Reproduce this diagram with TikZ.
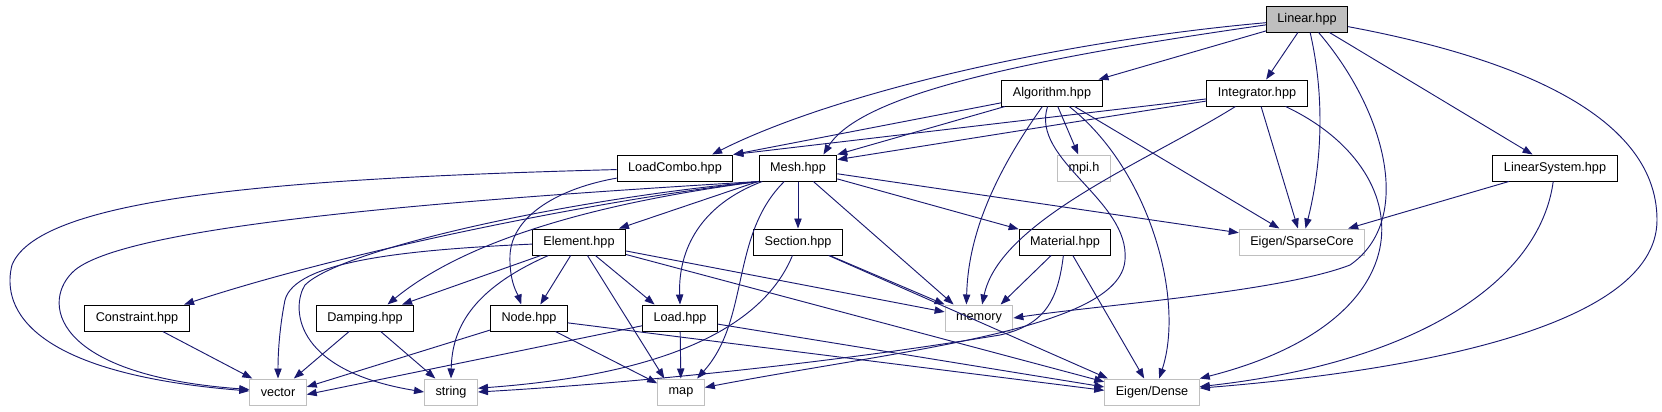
\documentclass[tikz,border=0pt]{standalone}
\usepackage{fontspec}
\setmainfont{Liberation Sans}
\usepackage{xcolor}
\usepackage{tikz}
\usetikzlibrary{arrows.meta}
\definecolor{depblue}{HTML}{191970}
\definecolor{greyfill}{HTML}{BFBFBF}
\tikzstyle{hdr}=[draw=black,fill=white,rectangle,line width=0.75pt,minimum height=19.5pt,inner xsep=8.25pt,inner ysep=0pt,font=\fontsize{9.5}{11}\selectfont]
\tikzstyle{sys}=[hdr,draw=greyfill]
\tikzstyle{root}=[hdr,fill=greyfill]
\tikzstyle{dep}=[draw=depblue,line width=0.7pt,-{Triangle[length=7.5pt,width=5.5pt]}]

\begin{document}
\begin{tikzpicture}[x=0.75pt,y=-0.75pt]
\useasboundingbox (0,0) rectangle (1662,411);
\node[root] (a1) at (1307,19) {Linear.hpp};
\node[hdr] (b1) at (1052,93) {Algorithm.hpp};
\node[hdr] (b2) at (1257,93) {Integrator.hpp};
\node[hdr] (c1) at (675,168) {LoadCombo.hpp};
\node[hdr] (c2) at (798,168) {Mesh.hpp};
\node[sys] (c3) at (1084,168) {mpi.h};
\node[hdr] (c4) at (1555,168) {LinearSystem.hpp};
\node[hdr] (d1) at (579,242) {Element.hpp};
\node[hdr] (d2) at (798,242) {Section.hpp};
\node[hdr] (d3) at (1065,242) {Material.hpp};
\node[sys] (d4) at (1302,242) {Eigen/SparseCore};
\node[hdr] (e1) at (137,318) {Constraint.hpp};
\node[hdr] (e2) at (365,318) {Damping.hpp};
\node[hdr] (e3) at (529,318) {Node.hpp};
\node[hdr] (e4) at (680,318) {Load.hpp};
\node[sys] (e5) at (979,318) {memory};
\node[sys] (f1) at (278,392) {vector};
\node[sys] (f2) at (451,392) {string};
\node[sys] (f3) at (681,392) {map};
\node[sys] (f4) at (1152,392) {Eigen/Dense};
\draw[dep] (a1) .. controls (1050,42) and (830,95) .. (c1.20);
\draw[dep] (a1) .. controls (1020,60) and (860,95) .. (c2.28);
\draw[dep] (a1) -- (b1);
\draw[dep] (a1) -- (b2);
\draw[dep] (a1) -- (c4);
\draw[dep] (a1) .. controls (1328,110) and (1318,180) .. (d4);
\draw[dep] (a1) .. controls (1385,110) and (1415,220) .. (1350,265) .. controls (1280,292) and (1100,305) .. (e5.east);
\draw[dep] (a1) .. controls (1500,55) and (1657,110) .. (1657,220) .. controls (1657,330) and (1400,372) .. (f4);
\draw[dep] (b1) -- (c1.north east);
\draw[dep] (b1) -- (c2.north east);
\draw[dep] (b1) -- (c3);
\draw[dep] (b1) .. controls (990,180) and (968,240) .. (e5.133);
\draw[dep] (b1) -- (d4);
\draw[dep] (b1) .. controls (1150,170) and (1185,300) .. (f4.62);
\draw[dep] (b1) .. controls (1030,160) and (1130,200) .. (1125,260) .. controls (1120,330) and (900,350) .. (f3);
\draw[dep] (b2) -- (c1.north east);
\draw[dep] (b2) -- (c2.12);
\draw[dep] (b2) .. controls (1150,160) and (1000,220) .. (e5.77);
\draw[dep] (b2) -- (d4);
\draw[dep] (b2) .. controls (1420,170) and (1430,320) .. (f4.north east);
\draw[dep] (c4) -- (d4);
\draw[dep] (c4) .. controls (1540,280) and (1420,362) .. (f4);
\draw[dep] (c1) .. controls (300,178) and (40,195) .. (12,265) .. controls (3,300) and (15,372) .. (f1.178);
\draw[dep] (c1) .. controls (560,188) and (512,215) .. (510,255) .. controls (509,282) and (518,295) .. (e3.120);
\draw[dep] (c2) -- (d1);
\draw[dep] (c2) -- (d2);
\draw[dep] (c2) -- (d3);
\draw[dep] (c2) -- (d4);
\draw[dep] (c2) -- (e5.152);
\draw[dep] (c2) .. controls (730,235) and (750,320) .. (f3.40);
\draw[dep] (c2) .. controls (700,205) and (678,250) .. (e4.north);
\draw[dep] (c2.south west) .. controls (580,205) and (460,245) .. (e2.31);
\draw[dep] (c2.south west) .. controls (600,200) and (350,250) .. (e1.16);
\draw[dep] (c2.south west) .. controls (450,200) and (130,225) .. (75,270) .. controls (40,300) and (50,375) .. (f1.175);
\draw[dep] (c2.south west) .. controls (560,200) and (340,250) .. (305,285) .. controls (292,305) and (290,370) .. (f2.west);
\draw[dep] (d1) -- (e2.20);
\draw[dep] (d1) .. controls (400,250) and (295,262) .. (285,300) .. controls (280,325) and (278,350) .. (f1.north);
\draw[dep] (d1) .. controls (470,290) and (452,330) .. (f2.north);
\draw[dep] (d1) -- (e3.50);
\draw[dep] (d1) -- (f3.141);
\draw[dep] (d1) -- (e4.152);
\draw[dep] (d1) -- (e5.170);
\draw[dep] (d1) -- (f4.168);
\draw[dep] (d2) -- (e5.north west);
\draw[dep] (d2) -- (f4.163);
\draw[dep] (d2) .. controls (770,310) and (700,372) .. (f2.8);
\draw[dep] (d3) -- (e5.32);
\draw[dep] (d3) -- (f4);
\draw[dep] (d3) .. controls (1058,300) and (1045,325) .. (1000,335) .. controls (800,368) and (600,385) .. (f2.east);
\draw[dep] (e1) -- (f1);
\draw[dep] (e2) -- (f1);
\draw[dep] (e2) -- (f2);
\draw[dep] (e3) -- (f1.10);
\draw[dep] (e3) -- (f3.160);
\draw[dep] (e3) -- (f4.178);
\draw[dep] (e4) -- (f1.355);
\draw[dep] (e4) -- (f3);
\draw[dep] (e4) -- (f4.174);
\end{tikzpicture}
\end{document}
